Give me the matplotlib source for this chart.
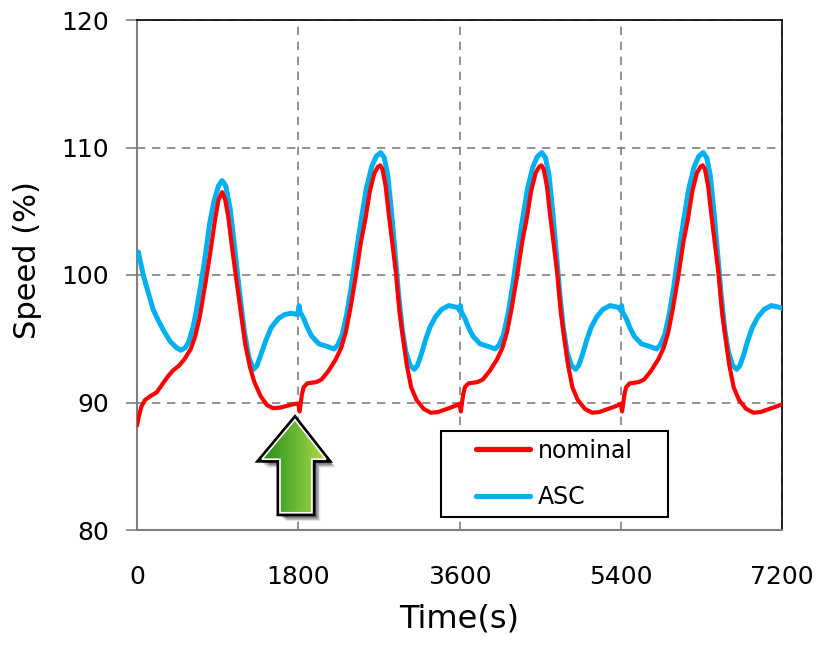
import matplotlib
matplotlib.use("Agg")
import matplotlib.pyplot as plt
import numpy as np
from matplotlib.patches import Polygon, Rectangle
from matplotlib.colors import LinearSegmentedColormap
import matplotlib.transforms as mtransforms

# ---- data: rotor speed (%) over two hours, two control strategies ----
nominal_time = [
    0, 20, 50, 90, 150, 220, 280, 340, 400, 470, 530, 600, 650, 700, 760, 815,
    870, 910, 950, 985, 1020, 1060, 1110, 1160, 1210, 1260, 1310, 1380, 1450,
    1520, 1600, 1680, 1770,
    1800, 1815, 1840, 1860, 1900, 2000, 2060, 2140, 2220, 2280, 2330, 2380,
    2440, 2500, 2550, 2600, 2650, 2690, 2715, 2740, 2775, 2810, 2850, 2890,
    2930, 2970, 3010, 3060, 3120, 3200, 3280, 3360, 3440, 3520, 3590,
    3600, 3615, 3640, 3660, 3700, 3800, 3860, 3940, 4020, 4080, 4130, 4180,
    4240, 4300, 4350, 4400, 4450, 4490, 4515, 4540, 4575, 4610, 4650, 4690,
    4730, 4770, 4810, 4860, 4920, 5000, 5080, 5160, 5240, 5320, 5390,
    5400, 5415, 5440, 5460, 5500, 5600, 5660, 5740, 5820, 5880, 5930, 5980,
    6040, 6100, 6150, 6200, 6250, 6290, 6315, 6340, 6375, 6410, 6450, 6490,
    6530, 6570, 6610, 6660, 6720, 6800, 6880, 6960, 7040, 7120, 7200,
]
nominal_speed = [
    88.2, 88.9, 89.7, 90.2, 90.5, 90.8, 91.4, 92.0, 92.5, 92.9, 93.4, 94.2,
    95.2, 96.7, 99.2, 101.6, 104.3, 105.9, 106.5, 105.9, 104.5, 102.2, 99.6,
    97.0, 94.5, 92.8, 91.6, 90.5, 89.8, 89.55, 89.6, 89.75, 89.9,
    89.9, 89.3, 90.6, 91.2, 91.5, 91.6, 91.8, 92.5, 93.4, 94.3, 95.5, 97.3,
    99.8, 102.6, 104.4, 106.6, 108.0, 108.5, 108.6, 108.3, 107.0, 104.8, 102.5,
    100.2, 97.1, 95.0, 93.0, 91.2, 90.2, 89.5, 89.2, 89.25, 89.45, 89.65, 89.85,
    89.9, 89.3, 90.6, 91.2, 91.5, 91.6, 91.8, 92.5, 93.4, 94.3, 95.5, 97.3,
    99.8, 102.6, 104.4, 106.6, 108.0, 108.5, 108.6, 108.3, 107.0, 104.8, 102.5,
    100.2, 97.1, 95.0, 93.0, 91.2, 90.2, 89.5, 89.2, 89.25, 89.45, 89.65, 89.85,
    89.9, 89.3, 90.6, 91.2, 91.5, 91.6, 91.8, 92.5, 93.4, 94.3, 95.5, 97.3,
    99.8, 102.6, 104.4, 106.6, 108.0, 108.5, 108.6, 108.3, 107.0, 104.8, 102.5,
    100.2, 97.1, 95.0, 93.0, 91.2, 90.2, 89.5, 89.2, 89.25, 89.45, 89.65, 89.85,
]

asc_time = [
    0, 15, 30, 70, 110, 180, 240, 300, 370, 440, 490, 540, 580, 630, 670, 720,
    760, 810, 860, 910, 950, 990, 1040, 1080, 1120, 1160, 1200, 1250, 1300,
    1340, 1380, 1440, 1500, 1580, 1650, 1720, 1790,
    1800, 1810, 1820, 1860, 1900, 1950, 2030, 2120, 2200, 2240, 2290, 2340,
    2390, 2440, 2500, 2560, 2620, 2670, 2720, 2760, 2800, 2840, 2880, 2920,
    2960, 3000, 3050, 3095, 3130, 3170, 3220, 3270, 3330, 3400, 3480, 3550, 3595,
    3600, 3610, 3620, 3660, 3700, 3750, 3830, 3920, 4000, 4040, 4090, 4140,
    4190, 4240, 4300, 4360, 4420, 4470, 4520, 4560, 4600, 4640, 4680, 4720,
    4760, 4800, 4850, 4895, 4930, 4970, 5020, 5070, 5130, 5200, 5280, 5350, 5395,
    5400, 5410, 5420, 5460, 5500, 5550, 5630, 5720, 5800, 5840, 5890, 5940,
    5990, 6040, 6100, 6160, 6220, 6270, 6320, 6360, 6400, 6440, 6480, 6520,
    6560, 6600, 6650, 6695, 6730, 6770, 6820, 6870, 6930, 7000, 7080, 7150, 7200,
]
asc_speed = [
    101.6, 101.8, 101.3, 100.0, 99.0, 97.3, 96.4, 95.6, 94.8, 94.3, 94.1, 94.3,
    94.8, 96.0, 97.5, 99.6, 101.4, 104.0, 105.8, 107.0, 107.4, 107.0, 105.2,
    102.8, 100.2, 97.8, 95.5, 93.5, 92.6, 92.9, 93.7, 94.9, 95.9, 96.6, 96.9,
    97.0, 96.9,
    97.2, 97.6, 97.1, 96.6, 95.9, 95.2, 94.6, 94.4, 94.2, 94.5, 95.3, 96.9,
    99.0, 101.5, 104.2, 106.8, 108.5, 109.3, 109.6, 109.2, 107.8, 105.0, 101.8,
    98.5, 95.8, 94.0, 92.9, 92.6, 92.9, 93.7, 94.9, 95.9, 96.7, 97.3, 97.6,
    97.5, 97.4,
    97.2, 97.6, 97.1, 96.6, 95.9, 95.2, 94.6, 94.4, 94.2, 94.5, 95.3, 96.9,
    99.0, 101.5, 104.2, 106.8, 108.5, 109.3, 109.6, 109.2, 107.8, 105.0, 101.8,
    98.5, 95.8, 94.0, 92.9, 92.6, 92.9, 93.7, 94.9, 95.9, 96.7, 97.3, 97.6,
    97.5, 97.4,
    97.2, 97.6, 97.1, 96.6, 95.9, 95.2, 94.6, 94.4, 94.2, 94.5, 95.3, 96.9,
    99.0, 101.5, 104.2, 106.8, 108.5, 109.3, 109.6, 109.2, 107.8, 105.0, 101.8,
    98.5, 95.8, 94.0, 92.9, 92.6, 92.9, 93.7, 94.9, 95.9, 96.7, 97.3, 97.6,
    97.5, 97.4,
]

x_ticks = [0, 1800, 3600, 5400, 7200]
y_ticks = [80, 90, 100, 110, 120]
series_labels = ["nominal", "ASC"]

RED = "#FF0000"
BLUE = "#00B0F0"
GRAY = "#808080"

plt.rcParams["font.family"] = ["DejaVu Sans"]

fig = plt.figure(figsize=(8.17, 6.49), dpi=100)
ax = fig.add_axes([137 / 817, 1 - 530 / 649, 645 / 817, 510 / 649])

ax.plot(asc_time, asc_speed, color=BLUE, lw=3.6, solid_joinstyle="round",
        solid_capstyle="round", label=series_labels[1], zorder=3)
ax.plot(nominal_time, nominal_speed, color=RED, lw=3.0, solid_joinstyle="round",
        solid_capstyle="round", label=series_labels[0], zorder=4)

ax.set_xlim(0, 7200)
ax.set_ylim(80, 120)
ax.set_xticks(x_ticks)
ax.set_yticks(y_ticks)
ax.set_xticks([0, 7200], minor=True)

ax.grid(True, which="major", color=GRAY, ls=(0, (5, 4)), lw=1.2, zorder=1)
ax.set_axisbelow(True)

for side in ("left", "bottom"):
    ax.spines[side].set_color(GRAY)
    ax.spines[side].set_linewidth(1.5)
for side in ("top", "right"):
    ax.spines[side].set_color("black")
    ax.spines[side].set_linewidth(1.2)

ax.tick_params(axis="y", which="major", direction="out", length=8, width=1.2,
               color=GRAY, labelsize=18, pad=12)
ax.tick_params(axis="x", which="major", length=0, labelsize=18, pad=25)
ax.tick_params(axis="x", which="minor", direction="out", length=8, width=1.2,
               color=GRAY)

ax.set_xlabel("Time(s)", fontsize=23)
ax.set_ylabel("Speed (%)", fontsize=22)
ax.xaxis.set_label_coords(0.5, -0.145)
ax.yaxis.set_label_coords(-0.148, 0.53)

# legend: frame drawn as a box, entries centred inside it
box = Rectangle((0.471, 0.0255), 0.352, 0.169, transform=ax.transAxes,
                facecolor="white", edgecolor="black", lw=1.5, zorder=8)
ax.add_patch(box)
handles, labels = ax.get_legend_handles_labels()
order = [labels.index(s) for s in series_labels]
leg = ax.legend([handles[i] for i in order], [labels[i] for i in order],
                loc="center", bbox_to_anchor=(0.647, 0.11), frameon=False,
                fontsize=17, handlelength=2.3, handletextpad=0.3,
                labelspacing=0.95)
leg.set_zorder(9)
for line in leg.get_lines():
    line.set_linewidth(3.8)

# green up-arrow marking the start of the second cycle
arrow_xy = [
    (1763, 88.65), (2109, 85.55), (1953, 85.55), (1953, 81.35),
    (1596, 81.35), (1596, 85.55), (1395, 85.55),
]
for dx, al in [(7, 0.10), (5.5, 0.15), (4, 0.2), (2.5, 0.25)]:
    tr = mtransforms.offset_copy(ax.transData, fig=fig, x=dx, y=-dx, units="dots")
    ax.add_patch(Polygon(arrow_xy, closed=True, facecolor="black", edgecolor="black",
                         lw=2, alpha=al, transform=tr, zorder=5))
outline = Polygon(arrow_xy, closed=True, facecolor="none", edgecolor="black",
                  lw=5, joinstyle="miter", zorder=6)
ax.add_patch(outline)
clip = Polygon(arrow_xy, closed=True, facecolor="none", edgecolor="none",
               transform=ax.transData)
ax.add_patch(clip)
green = LinearSegmentedColormap.from_list(
    "green", ["#2f8a1c", "#4ea82a", "#7cc23a", "#b7da46"])
grad = np.linspace(0, 1, 256).reshape(1, -1)
img = ax.imshow(grad, cmap=green, aspect="auto", extent=(1395, 2109, 81.35, 88.65),
                origin="lower", zorder=7, interpolation="bilinear")
img.set_clip_path(clip)
ax.add_patch(Polygon(arrow_xy, closed=True, facecolor="none", edgecolor="white",
                     lw=1.2, joinstyle="miter", zorder=7.5))

ax.set_xlim(0, 7200)
ax.set_ylim(80, 120)

fig.savefig("out.png", dpi=100)
